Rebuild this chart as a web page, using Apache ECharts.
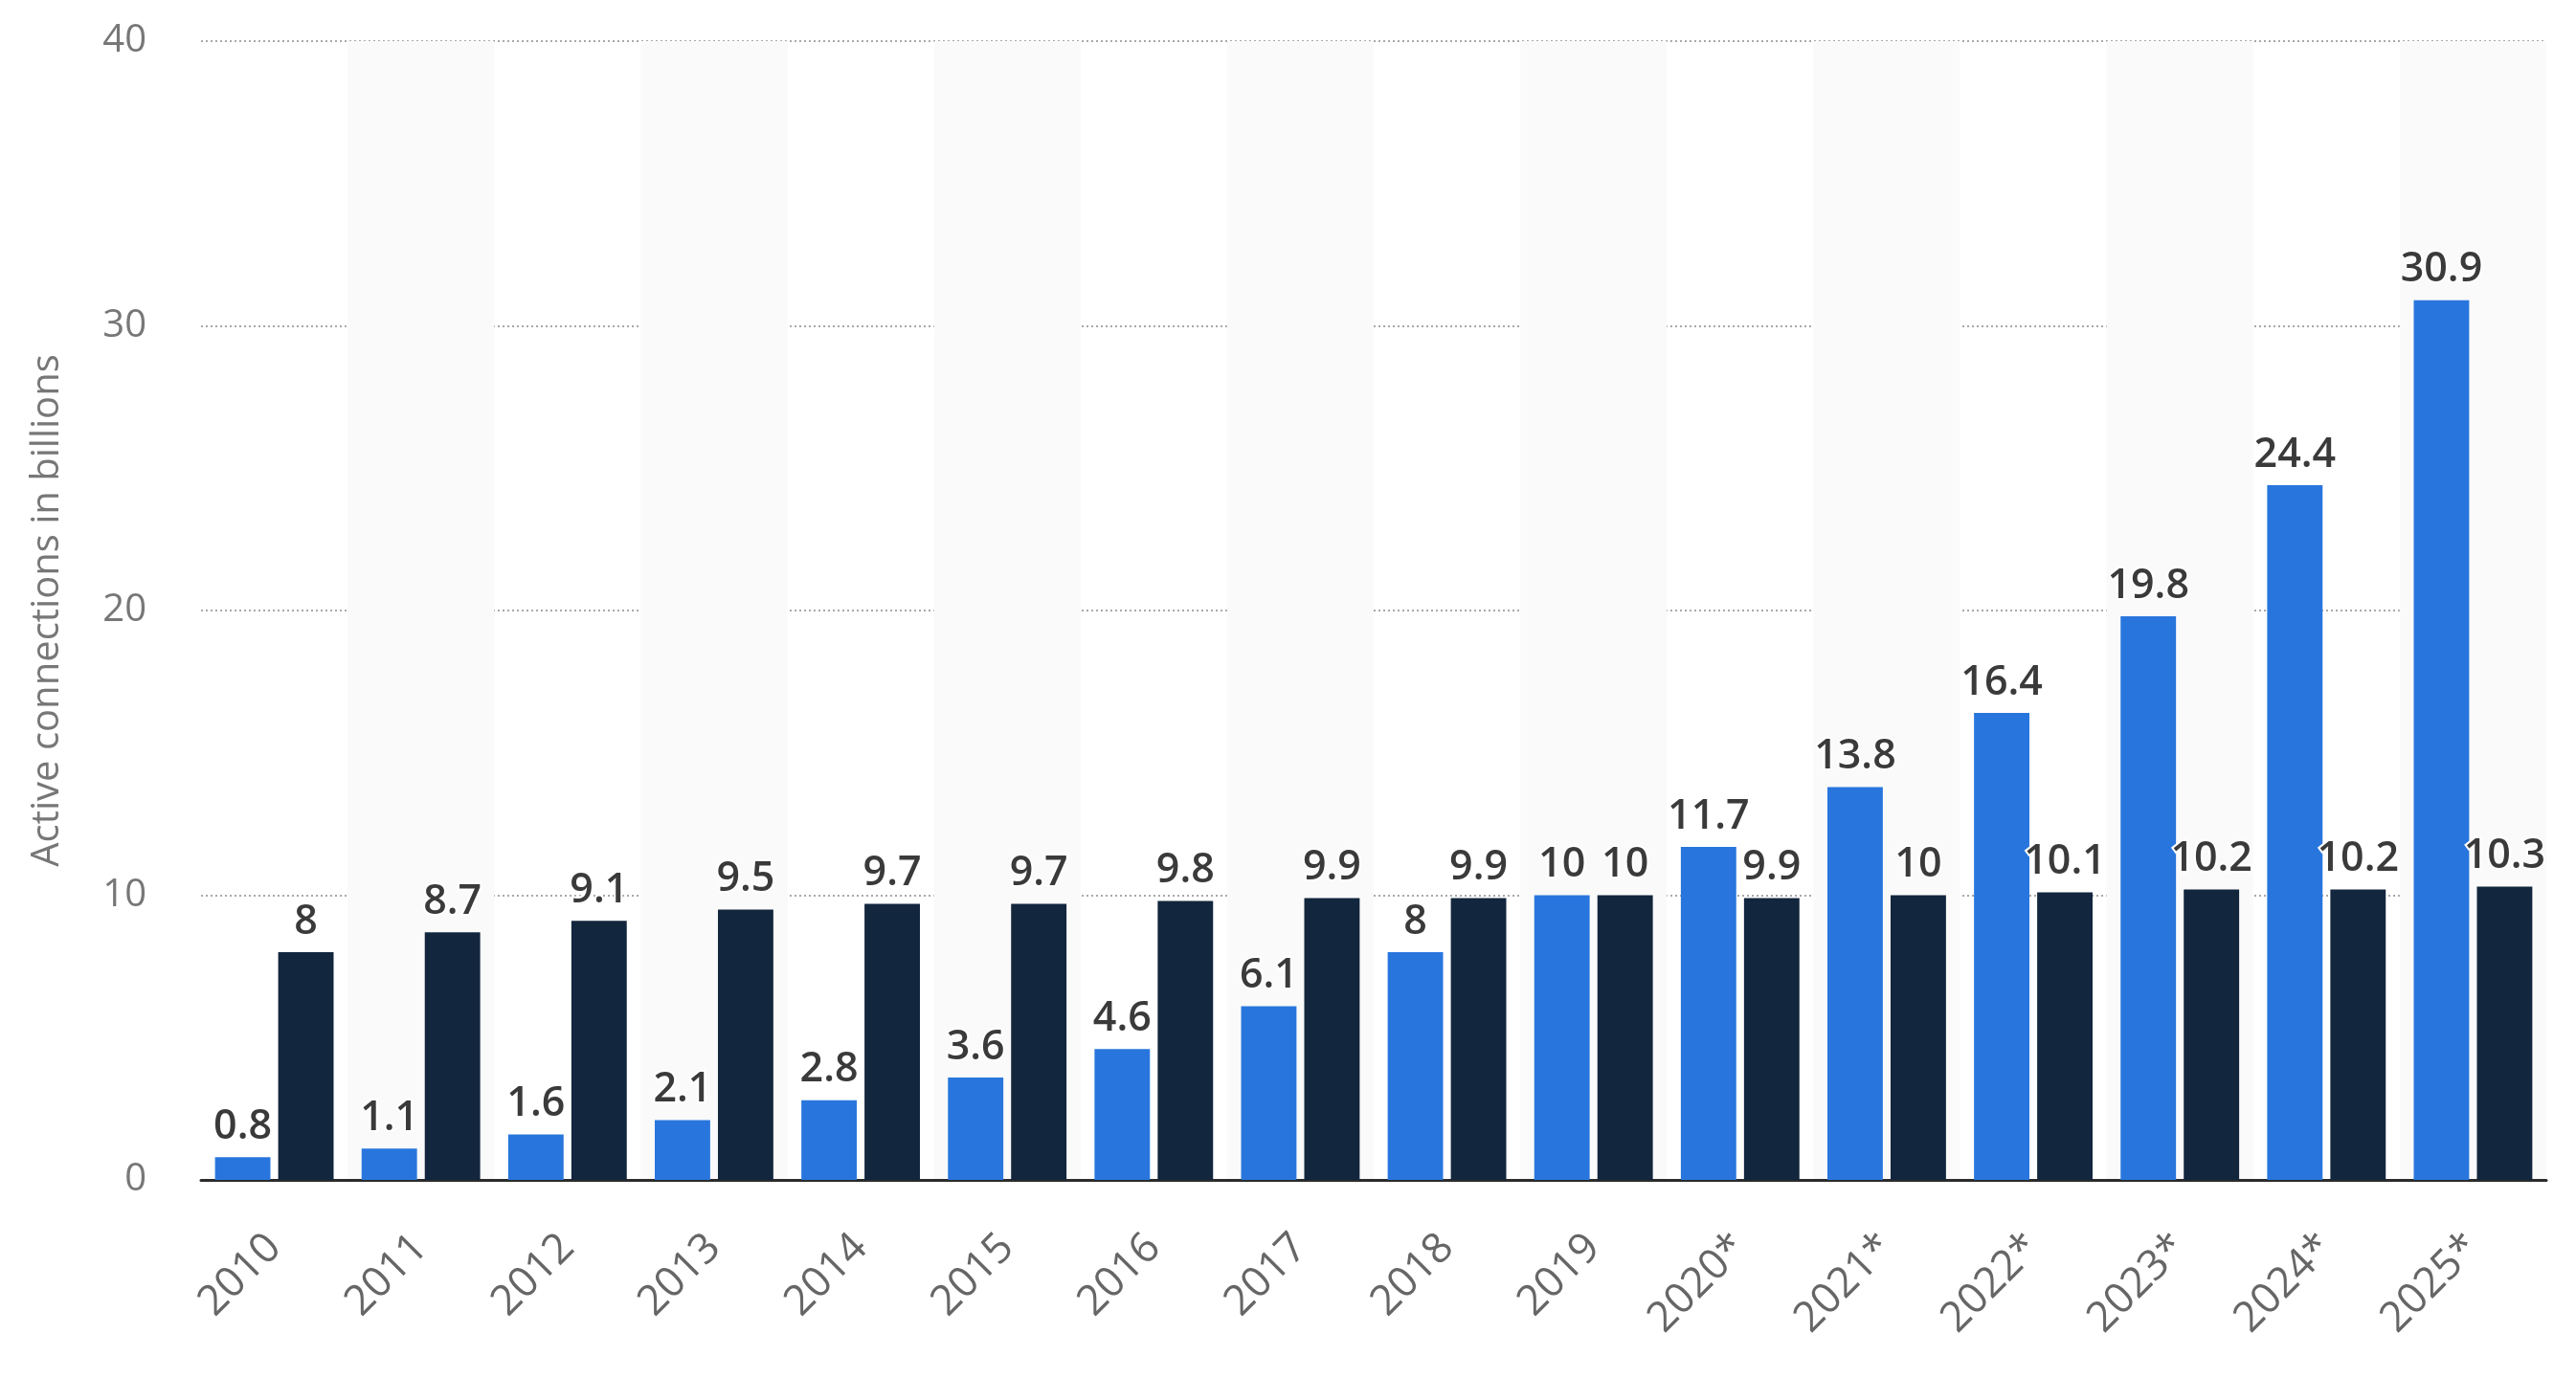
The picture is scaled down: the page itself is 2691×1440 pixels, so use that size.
<!DOCTYPE html>
<html>
<head>
<meta charset="utf-8">
<script src="https://cdn.jsdelivr.net/npm/echarts@6/dist/echarts.min.js"></script>
<style>
  html, body { margin: 0; padding: 0; background: #ffffff; }
  #chart { width: 2691px; height: 1440px; }
</style>
</head>
<body>
<div id="chart"></div>
<script>
var categories = ['2010','2011','2012','2013','2014','2015','2016','2017','2018','2019','2020*','2021*','2022*','2023*','2024*','2025*'];
var iotConnections = [0.8, 1.1, 1.6, 2.1, 2.8, 3.6, 4.6, 6.1, 8, 10, 11.7, 13.8, 16.4, 19.8, 24.4, 30.9];
var nonIotConnections = [8, 8.7, 9.1, 9.5, 9.7, 9.7, 9.8, 9.9, 9.9, 10, 9.9, 10, 10.1, 10.2, 10.2, 10.3];
var yTicks = [0, 10, 20, 30, 40];
var yAxisTitle = 'Active connections in billions';

var chart = echarts.init(document.getElementById('chart'));

var labelStyle = {
  show: true,
  position: 'top',
  distance: 10,
  fontFamily: 'Open Sans',
  fontWeight: 600,
  fontSize: 43,
  color: '#3a3a3a',
  textBorderColor: '#ffffff',
  textBorderWidth: 4
};

chart.setOption({
  backgroundColor: '#ffffff',
  animation: false,
  grid: { left: 210, right: 31, top: 43, bottom: 207, containLabel: false },
  xAxis: {
    type: 'category',
    data: categories,
    boundaryGap: true,
    axisLine: { show: true, lineStyle: { color: '#2b2b2b', width: 3 } },
    axisTick: { show: false },
    splitLine: { show: false },
    splitArea: { show: true, areaStyle: { color: ['rgba(255,255,255,0)', '#fafafa'] } },
    axisLabel: {
      rotate: 45,
      margin: 64,
      interval: 0,
      fontFamily: 'Open Sans',
      fontSize: 44,
      color: '#666666'
    }
  },
  yAxis: {
    type: 'value',
    min: yTicks[0],
    max: yTicks[yTicks.length - 1],
    interval: 10,
    name: yAxisTitle,
    nameLocation: 'middle',
    nameRotate: 90,
    nameGap: 140,
    nameTextStyle: { fontFamily: 'Open Sans', fontSize: 40, color: '#777777' },
    axisLine: { show: false },
    axisTick: { show: false },
    axisLabel: {
      margin: 57,
      fontFamily: 'Open Sans',
      fontSize: 40,
      color: '#777777'
    },
    splitLine: { show: true, lineStyle: { color: '#a8a8a8', width: 2, type: [2, 3] } }
  },
  series: [
    {
      name: 'IoT',
      type: 'bar',
      data: iotConnections,
      barWidth: '37.8%',
      barGap: '14%',
      itemStyle: { color: '#2876dd' },
      label: labelStyle,
      z: 2
    },
    {
      name: 'Non-IoT',
      type: 'bar',
      data: nonIotConnections,
      barWidth: '37.8%',
      barGap: '14%',
      itemStyle: { color: '#12263d' },
      label: labelStyle,
      z: 3
    }
  ]
});
</script>
</body>
</html>
